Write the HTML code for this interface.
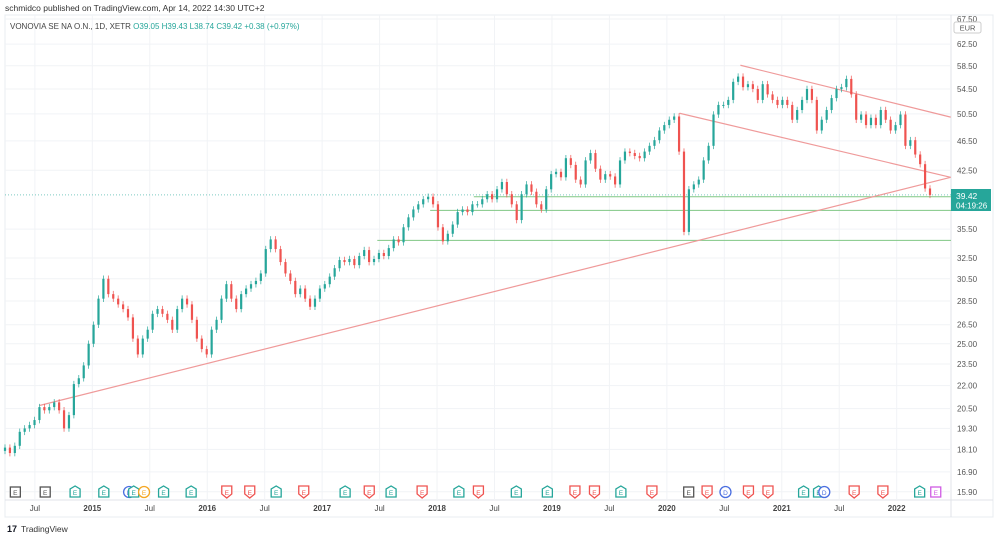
<!DOCTYPE html>
<html><head><meta charset="utf-8"><style>
body{margin:0;background:#fff;width:1000px;height:540px;overflow:hidden;font-family:"Liberation Sans",sans-serif}
svg{position:absolute;left:0;top:0}
</style></head><body>
<svg id="c" width="1000" height="540">
<text x="5" y="11" font-size="8.5" fill="#333">schmidco published on TradingView.com, Apr 14, 2022 14:30 UTC+2</text>
<rect x="5" y="15" width="988" height="502" fill="none" stroke="#e8ecf0"/>
<line x1="951" y1="15" x2="951" y2="517" stroke="#e0e3e8"/>
<line x1="5" y1="500" x2="993" y2="500" stroke="#e0e3e8"/>
<g id="grid"></g>
<g id="draw"></g>
<g id="candles"></g>
<g id="yaxis"></g>
<g id="xaxis"></g>
<g id="events"></g>
<text x="10" y="29" font-size="8" fill="#444">VONOVIA SE NA O.N., 1D, XETR <tspan fill="#26a69a">  O39.05  H39.43  L38.74  C39.42  +0.38 (+0.97%)</tspan></text>
<rect x="954" y="22" width="27" height="11" rx="2" fill="#fff" stroke="#ccc"/>
<text x="967.5" y="30.5" font-size="7.5" fill="#555" text-anchor="middle">EUR</text>
<rect x="951" y="189" width="40" height="22" fill="#26a69a"/>
<text x="956" y="199" font-size="8.5" fill="#fff">39.42</text>
<text x="956" y="208.5" font-size="8" fill="#fff">04:19:26</text>
<text x="7" y="532" font-size="9" font-weight="bold" fill="#131722">17</text>
<text x="21" y="532" font-size="8.5" fill="#333">TradingView</text>
</svg>
<script>
const closes=[18.2,17.9,18.3,19.1,19.3,19.5,19.8,20.6,20.4,20.6,20.9,20.4,19.3,20.1,22.1,22.5,23.4,25.0,26.5,28.7,30.5,29.1,28.7,28.2,27.8,27.1,25.4,24.2,25.4,26.1,27.4,27.8,27.4,26.9,26.1,27.8,28.7,28.2,26.9,25.4,24.6,24.2,26.1,26.9,28.7,30.0,28.7,27.8,29.1,29.6,30.0,30.3,31.0,33.4,34.4,33.4,32.1,31.0,30.3,29.1,29.6,28.7,28.0,28.7,29.6,30.0,30.7,31.5,32.3,32.1,32.4,31.8,32.7,33.3,32.1,32.4,33.0,32.7,33.5,34.4,34.1,35.7,36.8,37.7,38.3,38.9,39.2,38.3,35.7,34.2,35.0,36.0,37.4,37.7,37.4,38.3,38.3,38.9,39.5,38.9,40.1,41.0,39.5,38.3,36.5,39.5,40.7,39.8,38.3,37.7,40.1,42.0,42.3,41.6,44.1,43.2,41.3,40.7,43.8,44.8,42.7,41.3,42.0,41.7,40.7,43.8,45.0,44.8,44.4,44.1,45.0,45.8,46.6,48.0,48.8,49.6,50.1,45.0,35.2,40.1,40.7,41.3,43.8,45.8,50.4,51.9,51.9,52.7,55.7,56.6,54.8,55.3,54.5,52.7,55.3,53.6,52.7,51.9,52.7,51.9,49.6,51.1,52.7,54.5,52.7,48.0,49.6,51.1,53.0,54.5,54.8,56.2,53.6,49.6,50.4,48.8,49.9,48.8,51.1,49.6,48.0,48.8,50.4,45.8,46.6,44.6,43.3,40.2,39.42];
const priceTicks=[67.5,62.5,58.5,54.5,50.5,46.5,42.5,35.5,32.5,30.5,28.5,26.5,25.0,23.5,22.0,20.5,19.3,18.1,16.9,15.9];
const timeLabels=["Jul","2015","Jul","2016","Jul","2017","Jul","2018","Jul","2019","Jul","2020","Jul","2021","Jul","2022"];
const timeYears=[2014.5,2015,2015.5,2016,2016.5,2017,2017.5,2018,2018.5,2019,2019.5,2020,2020.5,2021,2021.5,2022];
const startYear=2014.24, endYear=2022.29;
const hLevels=[39.2,37.6,34.3];
const hStartYears=[2018.32,2017.94,2017.48];
const eventYears=[2014.33,2014.59,2014.85,2015.1,2015.32,2015.36,2015.45,2015.62,2015.86,2016.17,2016.37,2016.6,2016.84,2017.2,2017.41,2017.6,2017.87,2018.19,2018.36,2018.69,2018.96,2019.2,2019.37,2019.6,2019.87,2020.19,2020.35,2020.51,2020.71,2020.88,2021.19,2021.32,2021.37,2021.63,2021.88,2022.2,2022.34];
const eventTypes=["g","g","t","t","b","t","o","t","t","r","r","t","r","t","r","t","r","t","r","t","t","r","r","t","r","g","r","b","r","r","t","t","b","r","r","t","p"];
const NS="http://www.w3.org/2000/svg";
function X(yr){return 5+(yr-startYear)/(endYear-startYear)*925;}
function Y(p){return 19+Math.log(67.5/p)*327;}
function el(t,a,parent){const e=document.createElementNS(NS,t);for(const k in a)e.setAttribute(k,a[k]);parent.appendChild(e);return e;}
const grid=document.getElementById('grid'),ya=document.getElementById('yaxis'),xa=document.getElementById('xaxis');
priceTicks.forEach(p=>{
 const l=el('line',{x1:5,x2:951,y1:Y(p),y2:Y(p),stroke:'#f1f3f6'},grid);
 
 
 const t=el('text',{x:957,y:Y(p)+3,'font-size':8,fill:'#555'},ya);t.textContent=p.toFixed(2);
 
 
});
timeYears.forEach((yr,i)=>{
 const l=el('line',{x1:X(yr),x2:X(yr),y1:15,y2:500,stroke:'#f1f3f6'},grid);
 
 
 const t=el('text',{x:X(yr),y:511,'font-size':8,fill:'#444','text-anchor':'middle','font-weight':timeLabels[i]==='Jul'?'normal':'bold'},xa);t.textContent=timeLabels[i];
 
 
});
const dr=document.getElementById('draw');
const cur=el('line',{x1:5,x2:951,y1:Y(39.42),y2:Y(39.42),stroke:'#26a69a','stroke-dasharray':'1,2','stroke-opacity':0.6},dr);


hLevels.forEach((p,i)=>{
 const l=el('line',{x1:X(hStartYears[i]),x2:951,y1:Y(p),y2:Y(p),stroke:'#81c784','stroke-width':1},dr);
 
 
});
const trend=[[2014.54,20.7,2022.47,41.6],[2020.11,50.6,2022.47,41.6],[2020.64,58.6,2022.47,50.0]];
trend.forEach(t=>{
 const l=el('line',{x1:X(t[0]),y1:Y(t[1]),x2:X(t[2]),y2:Y(t[3]),stroke:'#ef9a9a','stroke-width':1.2},dr);
 
 
});
const cg=document.getElementById('candles');
const n=closes.length;
for(let i=0;i<n;i++){
 const yr=startYear+i/(n-1)*(endYear-startYear);
 const o=i?closes[i-1]:closes[0]*0.99,c=closes[i];
 const hi=Math.max(o,c)*1.01,lo=Math.min(o,c)*0.99;
 const col=c>=o?'#26a69a':'#ef5350';const x=X(yr);
 const w=el('line',{x1:x,x2:x,y1:Y(hi),y2:Y(lo),stroke:col,'stroke-width':0.7},cg);
 
 
 const b=el('rect',{x:x-1.1,y:Y(Math.max(o,c)),width:2.2,height:Math.max(1,Math.abs(Y(o)-Y(c))),fill:col},cg);
 
 
}
const colors={g:'#555',t:'#26a69a',r:'#ef5350',b:'#4a6ee0',o:'#f5a623',p:'#d05ce3'};
const ev=document.getElementById('events');
eventYears.forEach((yr,i)=>{
 const x=X(yr),ty=eventTypes[i],c=colors[ty];
 let s;
 if(ty==='b'||ty==='o'){s=el('circle',{cx:x,cy:492,r:5.5,fill:'#fff',stroke:c,'stroke-width':1.3},ev);}
 else if(ty==='t'){s=el('path',{d:`M${x-5} ${497}V${489}L${x} ${486}L${x+5} ${489}V${497}Z`,fill:'#fff',stroke:c,'stroke-width':1.3},ev);}
 else if(ty==='r'){s=el('path',{d:`M${x-5} ${486}H${x+5}V${494}L${x} ${498}L${x-5} ${494}Z`,fill:'#fff',stroke:c,'stroke-width':1.3},ev);}
 else {s=el('rect',{x:x-5,y:487,width:10,height:10,fill:'#fff',stroke:c,'stroke-width':1.3},ev);}
 
 
 const t=el('text',{x:x,y:495,'font-size':6.5,fill:c,'text-anchor':'middle'},ev);t.textContent=ty==='b'?'D':'E';
 
 
});
</script>
</body></html>
